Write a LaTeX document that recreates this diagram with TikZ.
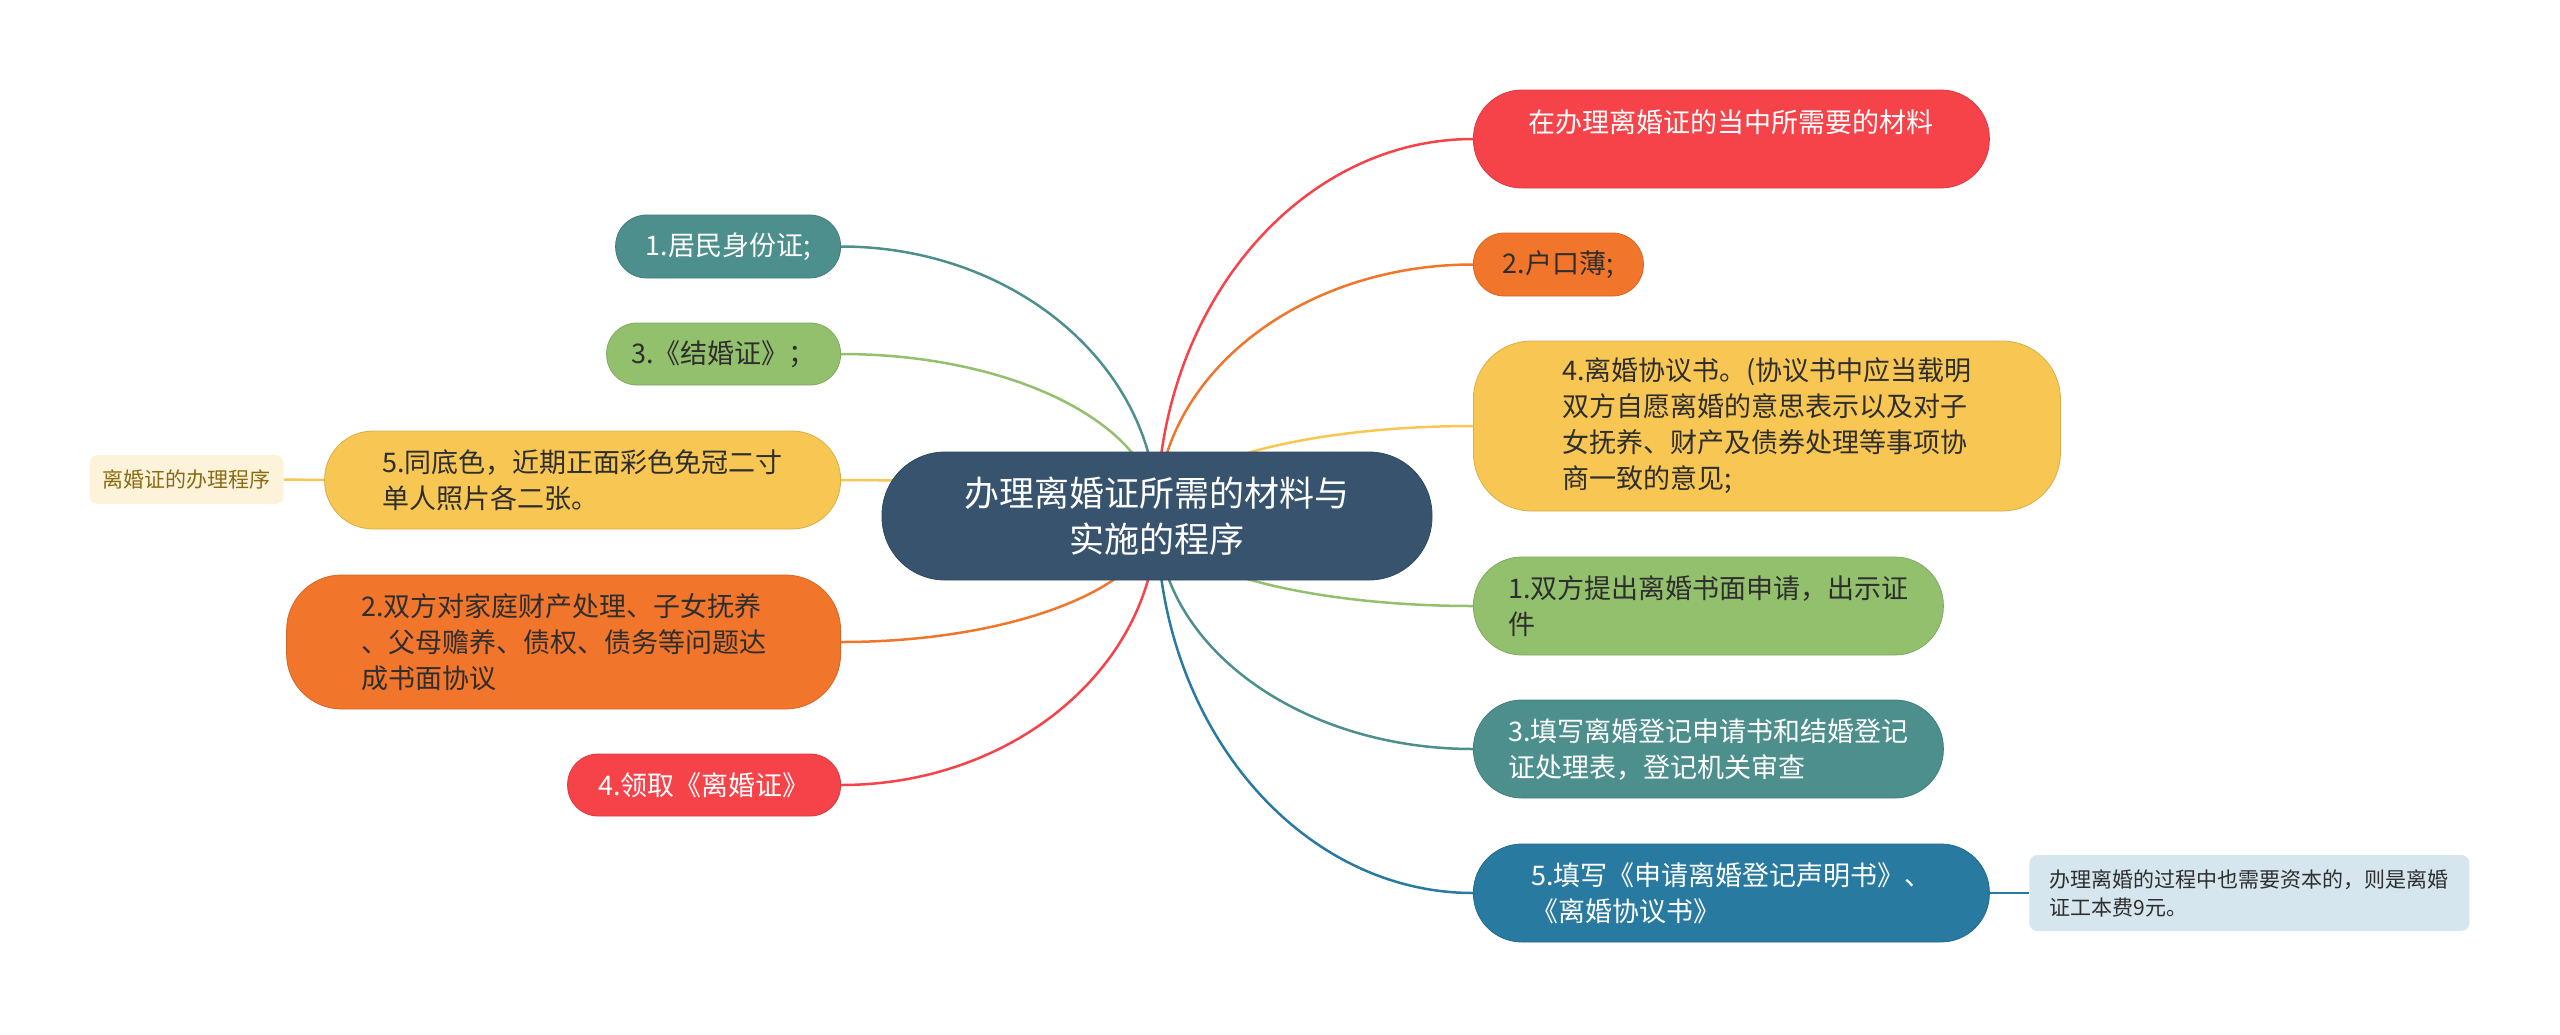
\documentclass[tikz,border=0pt]{standalone}
\usepackage{fontspec}
\newfontfamily\cjk{Noto Sans CJK SC}
\usetikzlibrary{calc,backgrounds}
\definecolor{cred}{HTML}{F6434A}
\definecolor{corange}{HTML}{F1752B}
\definecolor{cyellow}{HTML}{F7C653}
\definecolor{cgreen}{HTML}{93C06D}
\definecolor{cteal}{HTML}{4C8F8C}
\definecolor{cblue}{HTML}{287AA0}
\definecolor{ccenter}{HTML}{37536E}
\definecolor{cnote}{HTML}{D6E6EE}
\definecolor{ccream}{HTML}{FDF3DA}
\definecolor{cbrown}{HTML}{8A6A12}
\definecolor{cdark}{HTML}{2E2E2E}
\tikzset{
  box/.style={rectangle, align=left, inner xsep=0pt, inner ysep=0pt,
    draw=#1!88!black, fill=#1, line width=0.8pt,
    font=\cjk\fontsize{27}{36}\selectfont},
  link/.style={draw=#1, line width=2.5pt},
}
\newcommand\branch[3]{%
  \coordinate (k) at (#2 |- #3);
  \draw[link=#1] (#2) .. controls ($(#2)!0.552!(k)$) and ($(#3)!0.552!(k)$) .. (#3);}
\begin{document}
\begin{tikzpicture}[x=1pt,y=-1pt]
\useasboundingbox (0,0) rectangle (2560,1034);
% root
\node[box=ccenter, text=white, minimum width=550, minimum height=128, rounded corners=63,
  align=center, font=\cjk\fontsize{35}{46}\selectfont] (root) at (1157,516)
  {办理离婚证所需的材料与\\实施的程序};
% right side
\node[box=cred, text=white, minimum width=516, minimum height=98, rounded corners=48.5,
  align=center, anchor=west] (r1) at (1473,139) {在办理离婚证的当中所需要的材料\\\mbox{}};
\node[box=corange, text=cdark, minimum width=170, minimum height=63, rounded corners=31,
  anchor=west] (r2) at (1473,264.5) {2.户口薄;};
\node[box=cyellow, text=cdark, minimum width=587, minimum height=170, rounded corners=58,
  anchor=west] (r3) at (1473,426) {4.离婚协议书。(协议书中应当载明\\双方自愿离婚的意思表示以及对子\\女抚养、财产及债券处理等事项协\\商一致的意见;};
\node[box=cgreen, text=cdark, minimum width=470, minimum height=98, rounded corners=48.5,
  anchor=west] (r4) at (1473,606) {1.双方提出离婚书面申请，出示证\\件};
\node[box=cteal, text=white, minimum width=470, minimum height=98, rounded corners=48.5,
  anchor=west] (r5) at (1473,749) {3.填写离婚登记申请书和结婚登记\\证处理表，登记机关审查};
\node[box=cblue, text=white, minimum width=516, minimum height=98, rounded corners=48.5,
  anchor=west] (r6) at (1473,893) {5.填写《申请离婚登记声明书》、\\《离婚协议书》};
\node[box=cnote, draw=none, text=cdark, minimum width=440, minimum height=76, rounded corners=8,
  anchor=west, font=\cjk\fontsize{21}{28}\selectfont] (note) at (2029,893)
  {办理离婚的过程中也需要资本的，则是离婚\\证工本费9元。};
% left side
\node[box=cteal, text=white, minimum width=225, minimum height=63, rounded corners=31,
  anchor=east] (l1) at (841,246.5) {1.居民身份证;};
\node[box=cgreen, text=cdark, minimum width=234, minimum height=62, rounded corners=30.5,
  anchor=east] (l2) at (841,354) {3.《结婚证》；};
\node[box=cyellow, text=cdark, minimum width=516, minimum height=98, rounded corners=48.5,
  anchor=east] (l3) at (841,480) {5.同底色，近期正面彩色免冠二寸\\单人照片各二张。};
\node[box=corange, text=cdark, minimum width=554, minimum height=134, rounded corners=55,
  anchor=east] (l4) at (841,642) {2.双方对家庭财产处理、子女抚养\\、父母赡养、债权、债务等问题达\\成书面协议};
\node[box=cred, text=white, minimum width=273, minimum height=62, rounded corners=30.5,
  anchor=east] (l5) at (841,785) {4.领取《离婚证》};
\node[box=ccream, draw=none, text=cbrown, minimum width=194, minimum height=49, rounded corners=8,
  anchor=east, font=\cjk\fontsize{21}{28}\selectfont] (lab) at (284,479.5) {离婚证的办理程序};
% connectors
\begin{pgfonlayer}{background}
\branch{cred}{root.center}{r1.west}
\branch{corange}{root.center}{r2.west}
\branch{cyellow}{root.center}{r3.west}
\branch{cgreen}{root.center}{r4.west}
\branch{cteal}{root.center}{r5.west}
\branch{cblue}{root.center}{r6.west}
\branch{cteal}{root.center}{l1.east}
\branch{cgreen}{root.center}{l2.east}
\branch{cyellow}{root.center}{l3.east}
\branch{corange}{root.center}{l4.east}
\branch{cred}{root.center}{l5.east}
\draw[link=cblue] (r6.east) -- (note.west);
\draw[link=cyellow] (l3.west) -- (lab.east);
\end{pgfonlayer}
\end{tikzpicture}
\end{document}
